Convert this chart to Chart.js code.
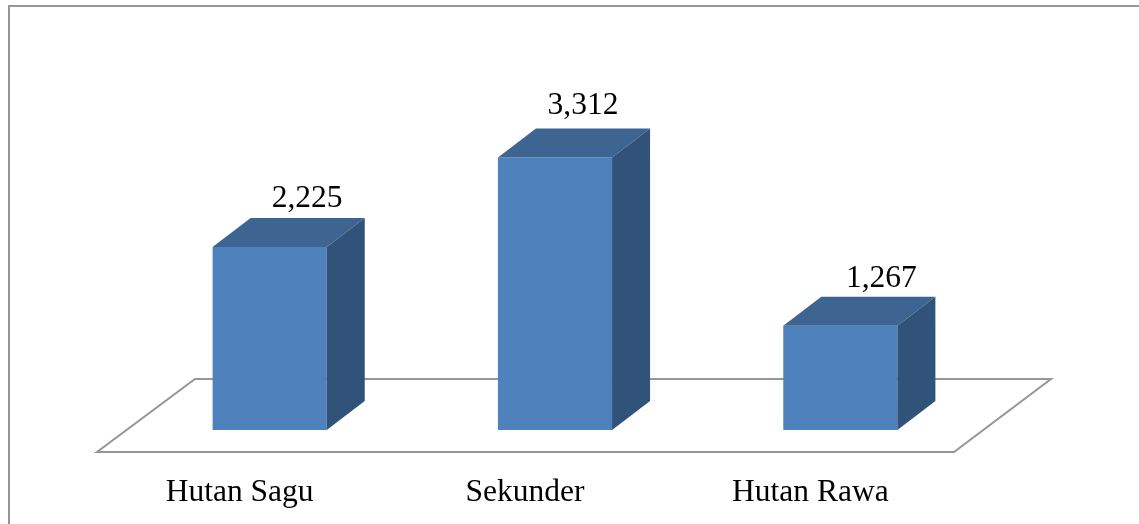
<!DOCTYPE html>
<html>
<head>
<meta charset="utf-8">
<script src="https://cdn.jsdelivr.net/npm/chart.js@4/dist/chart.umd.min.js"></script>
<style>
    html, body { margin: 0; padding: 0; background: #fff; overflow: hidden; }
    canvas { display: block; }
</style>
</head>
<body>
<canvas id="myChart" width="1139" height="524"></canvas>
<script>
const categories = ['Hutan Sagu', 'Sekunder', 'Hutan Rawa'];
const seriesValues = [2.225, 3.312, 1.267];
const axisMax = 4;

const fontFamily = '"Liberation Serif", "Times New Roman", serif';
const fontSize = 31.5;
const colorFront = '#4f81bd';
const colorTop = '#3e6591';
const colorSide = '#315279';
const colorLine = '#969696';

// profundidad de la caja 3D
const depthX = 38;
const depthY = 29;
// cada etiqueta va un poco movida respecto a la barra
const labelNudge = [[37.5, -48], [28, -52], [41, -47]];

const box3d = {
    id: 'box3d',
    beforeDraw: (chart) => {
        const c = chart.ctx;
        c.save();
        c.strokeStyle = colorLine;
        c.lineWidth = 2;
        c.beginPath();
        c.moveTo(9, 524);
        c.lineTo(9, 6);
        c.lineTo(1139, 6);
        c.stroke();
        c.restore();
    },
    beforeDatasetsDraw: (chart) => {
        // suelo
        const c = chart.ctx;
        const a = chart.chartArea;
        c.save();
        c.strokeStyle = colorLine;
        c.lineWidth = 2;
        c.lineJoin = 'miter';
        c.beginPath();
        c.moveTo(a.left - 30, a.bottom + 22);
        c.lineTo(a.right - 29, a.bottom + 22);
        c.lineTo(a.right + 68, a.bottom - 51);
        c.lineTo(a.left + 68, a.bottom - 51);
        c.closePath();
        c.stroke();
        c.restore();
    },
    afterDatasetsDraw: (chart) => {
        const c = chart.ctx;
        const bars = chart.getDatasetMeta(0).data;
        bars.forEach((bar, i) => {
            const left = bar.x - bar.width / 2;
            const right = bar.x + bar.width / 2;
            c.fillStyle = colorTop;
            c.beginPath();
            c.moveTo(left, bar.y);
            c.lineTo(left + depthX, bar.y - depthY);
            c.lineTo(right + depthX, bar.y - depthY);
            c.lineTo(right, bar.y);
            c.closePath();
            c.fill();
            c.fillStyle = colorSide;
            c.beginPath();
            c.moveTo(right, bar.y);
            c.lineTo(right + depthX, bar.y - depthY);
            c.lineTo(right + depthX, bar.base - depthY);
            c.lineTo(right, bar.base);
            c.closePath();
            c.fill();
            c.fillStyle = '#000';
            c.font = fontSize + 'px ' + fontFamily;
            c.textAlign = 'center';
            c.textBaseline = 'middle';
            c.fillText(seriesValues[i].toFixed(3).replace('.', ','), bar.x + labelNudge[i][0], bar.y + labelNudge[i][1]);
        });
    }
};

const ctx = document.getElementById('myChart');

new Chart(ctx, {
    type: 'bar',
    data: {
        labels: categories,
        datasets: [{
            data: seriesValues,
            backgroundColor: colorFront,
            borderWidth: 0,
            barPercentage: 0.4,
            categoryPercentage: 1
        }]
    },
    options: {
        responsive: false,
        animation: false,
        layout: { padding: { left: 127, right: 156, top: 101, bottom: 0 } },
        plugins: { legend: { display: false }, tooltip: { enabled: false } },
        scales: {
            x: {
                afterFit: (scale) => { scale.height = 94; },
                border: { display: false },
                grid: { display: false, drawTicks: false },
                ticks: {
                    color: '#000',
                    padding: 44,
                    labelOffset: -30,
                    maxRotation: 0,
                    font: { family: fontFamily, size: fontSize }
                }
            },
            y: { display: false, min: 0, max: axisMax }
        }
    },
    plugins: [box3d]
});
</script>
</body>
</html>
